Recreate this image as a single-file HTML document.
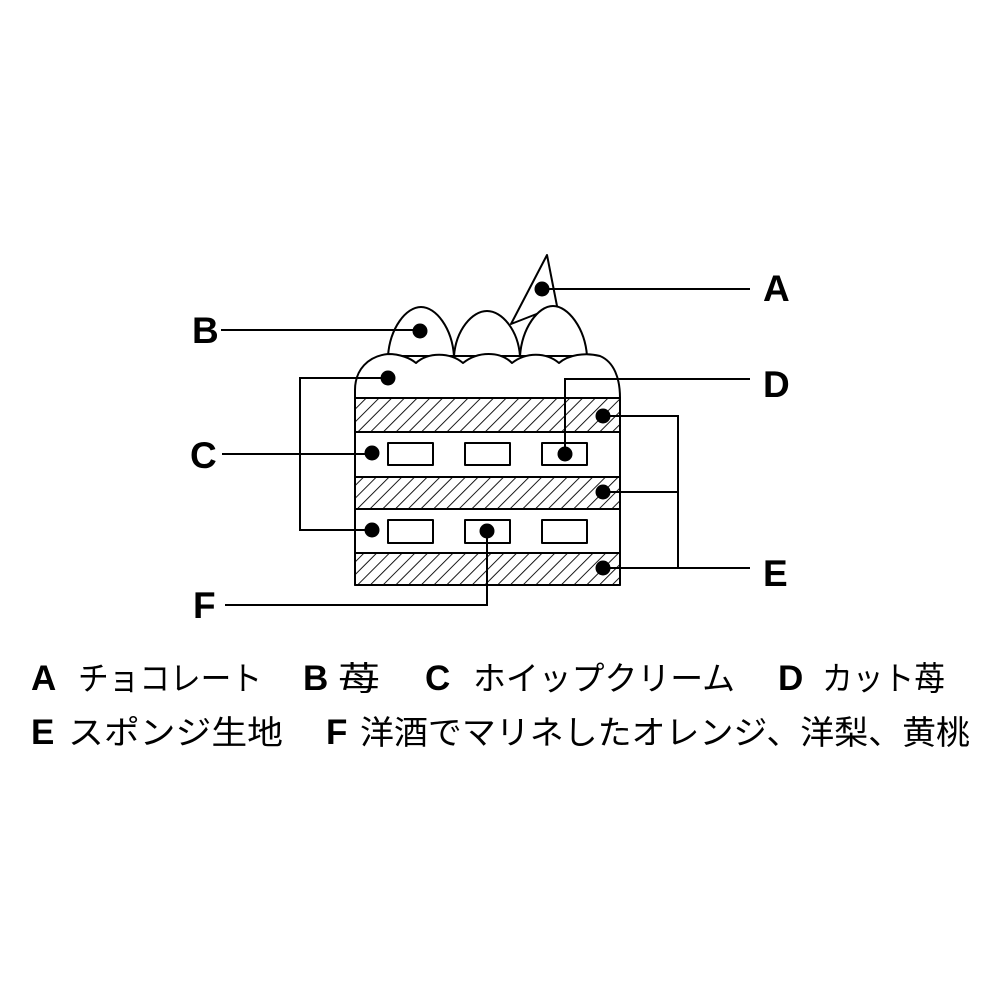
<!DOCTYPE html>
<html><head><meta charset="utf-8"><style>
html,body{margin:0;padding:0;background:#fff;}
svg{display:block;}
.l{font-family:"Liberation Sans","DejaVu Sans",sans-serif;font-weight:bold;font-size:37px;}
.j{font-family:"Liberation Sans","Noto Sans CJK JP",sans-serif;font-size:33px;}
.lb{font-family:"Liberation Sans","DejaVu Sans",sans-serif;font-weight:bold;font-size:35px;}
</style></head><body>
<svg width="1000" height="1000" viewBox="0 0 1000 1000" xmlns="http://www.w3.org/2000/svg">
<defs>
<pattern id="h" patternUnits="userSpaceOnUse" width="9" height="9" patternTransform="rotate(45)">
<rect width="9" height="9" fill="#fff"/>
<line x1="0" y1="0" x2="0" y2="9" stroke="#000" stroke-width="1.8"/>
</pattern>
</defs>
<g fill="#fff" stroke="#000" stroke-width="2" stroke-linejoin="round">
<!-- chocolate -->
<path d="M547,255 L557,306 L511,324 Z"/>
<!-- strawberries -->
<path d="M388,356 C390,328 406,307 421,307 C436,307 452,328 454,356 Z"/>
<path d="M520,356 C522,328 538,306 553,306 C568,306 585,328 587,356 Z"/>
<path d="M454,356 C456,330 472,311 487,311 C502,311 518,330 520,356 Z"/>
<!-- cream -->
<path d="M355,398 L355,390 C355,370 368,356 388,354 C400,354 410,358 416,363 C428,352 450,352 463,363 C478,351 500,351 512,363 C526,352 546,352 559,363 C568,355 585,352 600,356 C614,362 620,378 620,398 Z"/>
<!-- body -->
<rect x="355" y="398" width="265" height="187"/>
<rect x="355" y="398" width="265" height="34" fill="url(#h)"/>
<rect x="355" y="477" width="265" height="32" fill="url(#h)"/>
<rect x="355" y="553" width="265" height="32" fill="url(#h)"/>
<rect x="388" y="443" width="45" height="22"/>
<rect x="465" y="443" width="45" height="22"/>
<rect x="542" y="443" width="45" height="22"/>
<rect x="388" y="520" width="45" height="23"/>
<rect x="465" y="520" width="45" height="23"/>
<rect x="542" y="520" width="45" height="23"/>
</g>
<g fill="none" stroke="#000" stroke-width="2">
<polyline points="542,289 750,289"/>
<polyline points="221,330 420,330"/>
<polyline points="388,378 300,378 300,530 372,530"/>
<polyline points="222,454 372,454"/>
<polyline points="565,454 565,379 750,379"/>
<polyline points="603,416 678,416 678,568 750,568"/>
<polyline points="603,492 678,492"/>
<polyline points="603,568 678,568"/>
<polyline points="487,531 487,605 225,605"/>
</g>
<g fill="#000">
<circle cx="542" cy="289" r="7.5"/>
<circle cx="420" cy="331" r="7.5"/>
<circle cx="388" cy="378" r="7.5"/>
<circle cx="372" cy="453" r="7.5"/>
<circle cx="372" cy="530" r="7.5"/>
<circle cx="565" cy="454" r="7.5"/>
<circle cx="487" cy="531" r="7.5"/>
<circle cx="603" cy="416" r="7.5"/>
<circle cx="603" cy="492" r="7.5"/>
<circle cx="603" cy="568" r="7.5"/>
</g>
<text class="l" x="763" y="301">A</text>
<text class="l" x="192" y="343">B</text>
<text class="l" x="190" y="468">C</text>
<text class="l" x="763" y="397">D</text>
<text class="l" x="763" y="586">E</text>
<text class="l" x="193" y="618">F</text>
<!-- legend -->
<text class="lb" x="31" y="690">A</text>
<text class="j" x="78" y="690" textLength="184" lengthAdjust="spacingAndGlyphs">チョコレート</text>
<text class="lb" x="303" y="690">B</text>
<text class="j" x="338" y="690" textLength="42" lengthAdjust="spacingAndGlyphs">苺</text>
<text class="lb" x="425" y="690">C</text>
<text class="j" x="473" y="690" textLength="262" lengthAdjust="spacingAndGlyphs">ホイップクリーム</text>
<text class="lb" x="778" y="690">D</text>
<text class="j" x="822" y="690" textLength="123" lengthAdjust="spacingAndGlyphs">カット苺</text>
<text class="lb" x="31" y="744">E</text>
<text class="j" x="68" y="744" textLength="215" lengthAdjust="spacingAndGlyphs">スポンジ生地</text>
<text class="lb" x="326" y="744">F</text>
<text class="j" x="360" y="744" textLength="610" lengthAdjust="spacingAndGlyphs">洋酒でマリネしたオレンジ、洋梨、黄桃</text>
</svg>
</body></html>
